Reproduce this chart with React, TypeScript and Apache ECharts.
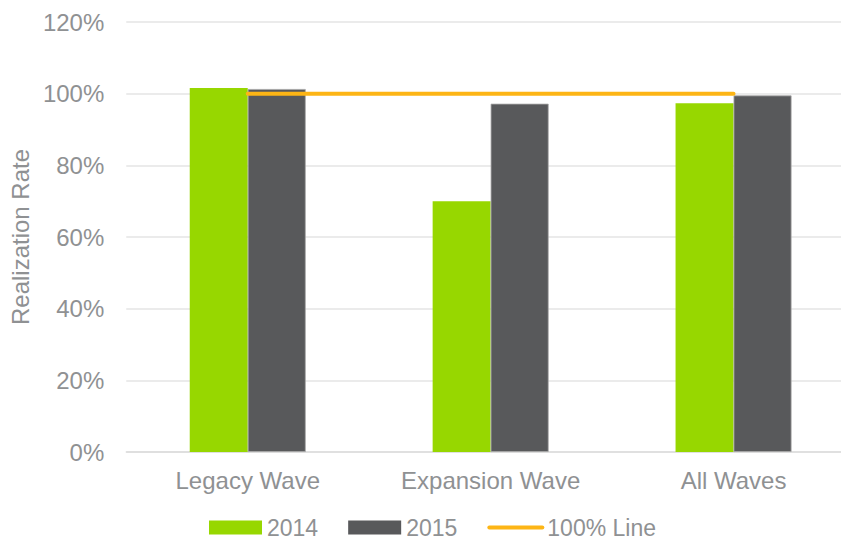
import React, { useEffect, useRef } from "react";
import * as echarts from "echarts";

const categories = ["Legacy Wave", "Expansion Wave", "All Waves"];
const series2014 = [101.6, 70.0, 97.3];
const series2015 = [101.3, 97.2, 99.5];
const line100 = [100, 100, 100];
const yTicks = { min: 0, max: 120, interval: 20 };

const FONT = "Arial, 'Liberation Sans', sans-serif";
const TEXT = "#8F9193";

export default function App() {
  const ref = useRef<HTMLDivElement>(null);
  useEffect(() => {
    if (!ref.current) return;
    const chart = echarts.init(ref.current, null, { renderer: "svg" });
    chart.setOption({
      animation: false,
      textStyle: { fontFamily: FONT },
      grid: { left: 125.5, top: 22, bottom: 90, right: 0, containLabel: false },
      legend: {
        left: 209,
        top: 516,
        itemWidth: 53,
        itemHeight: 14,
        itemGap: 30,
        textStyle: { color: TEXT, fontSize: 23, lineHeight: 22, fontFamily: FONT, padding: 0 },
        padding: 0,
        data: [
          { name: "2014", icon: "rect" },
          { name: "2015", icon: "rect", itemStyle: { borderWidth: 0 } },
          { name: "100% Line", itemStyle: { opacity: 0 }, lineStyle: { width: 4, cap: "round" } },
        ],
      },
      xAxis: {
        type: "category",
        data: categories,
        axisTick: { show: false },
        axisLine: { lineStyle: { color: "#DCDCDC", width: 1.5 } },
        axisLabel: { color: TEXT, fontSize: 24, margin: 16, fontFamily: FONT },
      },
      yAxis: {
        type: "value",
        min: yTicks.min,
        max: yTicks.max,
        interval: yTicks.interval,
        name: "Realization Rate",
        nameLocation: "middle",
        nameGap: 93,
        nameTextStyle: { color: TEXT, fontSize: 24, fontFamily: FONT },
        axisLine: { show: false },
        axisTick: { show: false },
        axisLabel: { color: TEXT, fontSize: 24, margin: 22, formatter: "{value}%", fontFamily: FONT },
        splitLine: { lineStyle: { color: "#E4E4E4", width: 1.5 } },
      },
      series: [
        {
          name: "2014",
          type: "bar",
          data: series2014,
          barWidth: 58,
          barGap: "0%",
          itemStyle: { color: "#97D700" },
        },
        {
          name: "2015",
          type: "bar",
          data: series2015,
          barWidth: 58,
          itemStyle: { color: "#58595B", borderColor: "#A8A8A8", borderWidth: 0.8 },
        },
        {
          name: "100% Line",
          type: "line",
          data: line100,
          symbol: "none",
          z: 5,
          lineStyle: { color: "#FDB515", width: 4, cap: "round" },
          itemStyle: { color: "#FDB515" },
        },
      ],
    });
    return () => chart.dispose();
  }, []);
  return (
    <div style={{ position: "absolute", left: 0, top: 0, width: 841, height: 542, overflow: "hidden", background: "#fff" }}>
      <div ref={ref} style={{ width: 855, height: 542 }} />
    </div>
  );
}
